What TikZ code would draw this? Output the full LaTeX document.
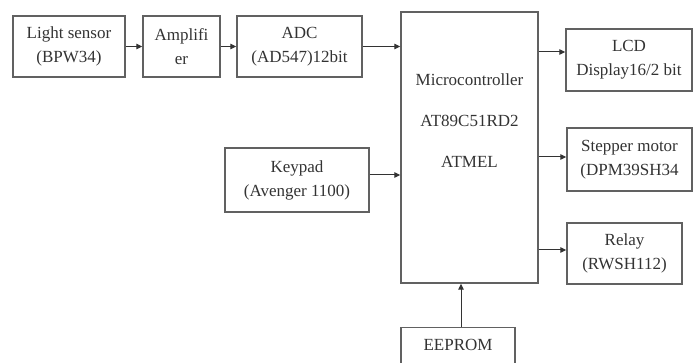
\documentclass[tikz,border=0pt]{standalone}
\usepackage{fontspec}
\setmainfont{Liberation Serif}
\usetikzlibrary{arrows.meta}
\begin{document}
\begin{tikzpicture}[x=1pt,y=-1pt,
  blk/.style={draw=black!62, line width=1.4pt, fill=white, inner sep=0pt,
    align=center, text=black!80, font=\fontsize{17}{24}\selectfont},
  conn/.style={draw=black!80, line width=1pt, -{Triangle[length=6pt,width=5.5pt]}},
]
\useasboundingbox (0,0) rectangle (694,363);
\fill[white] (0,0) rectangle (694,363);

% input chain
\node[blk, minimum width=112, minimum height=61] (light) at (69,46.5) {Light sensor\\(BPW34)};
\node[blk, minimum width=77, minimum height=61] (amp) at (181.5,46.5) {Amplifi\\er};
\node[blk, minimum width=125, minimum height=61] (adc) at (299.5,46.5) {ADC\\(AD547)12bit};
\node[blk, minimum width=144, minimum height=64] (keypad) at (297,180) {Keypad\\(Avenger 1100)};

% controller
\node[blk, minimum width=137, minimum height=271] (mcu) at (469.5,147.5) {};
\node[align=center, text=black!80, font=\fontsize{17}{41}\selectfont, inner sep=0pt]
  (mcutext) at (469.5,121) {Microcontroller\\AT89C51RD2\\ATMEL};

% outputs
\node[blk, minimum width=126, minimum height=62] (lcd) at (629,60) {LCD\\Display16/2 bit};
\node[blk, minimum width=125, minimum height=63] (stepper) at (629.5,159.5) {Stepper motor\\(DPM39SH34};
\node[blk, minimum width=115, minimum height=61] (relay) at (624.5,253.5) {Relay\\(RWSH112)};

% memory (runs off the bottom edge)
\node[blk, anchor=north, minimum width=114, text height=23pt, text depth=25pt] (eeprom) at (458,327) {EEPROM};

% connectors
\draw[conn] (light.east) -- (amp.west);
\draw[conn] (amp.east) -- (adc.west);
\draw[conn] (adc.east) -- (adc.east -| mcu.west);
\coordinate (kp) at ([yshift=5pt]keypad.east);
\draw[conn] (kp) -- (kp -| mcu.west);
\coordinate (lcdin) at ([yshift=8pt]lcd.west);
\draw[conn] (lcdin -| mcu.east) -- (lcdin);
\coordinate (stin) at ([yshift=2.5pt]stepper.west);
\draw[conn] (stin -| mcu.east) -- (stin);
\coordinate (rlin) at ([yshift=3.5pt]relay.west);
\draw[conn] (rlin -| mcu.east) -- (rlin);
\coordinate (eeout) at ([xshift=3pt]eeprom.north);
\draw[conn] (eeout) -- (eeout |- mcu.south);
\end{tikzpicture}
\end{document}
